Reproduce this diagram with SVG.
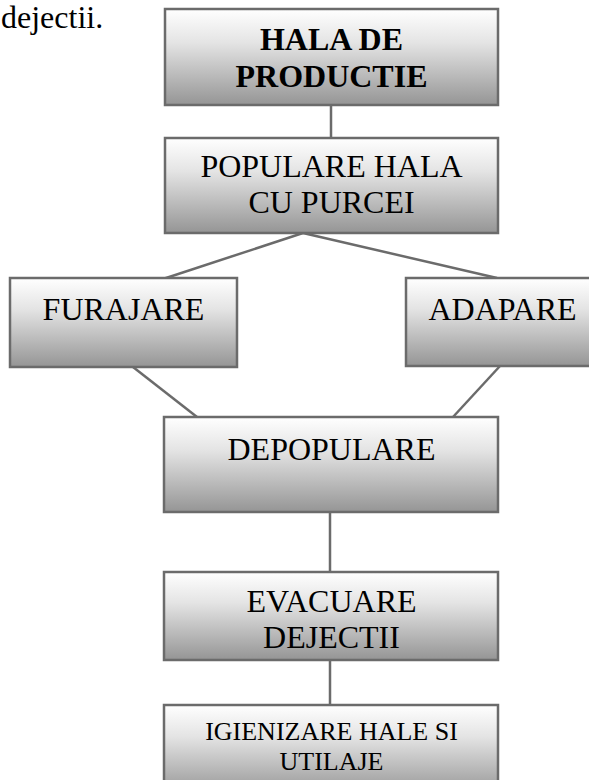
<svg xmlns="http://www.w3.org/2000/svg" width="589" height="780" viewBox="0 0 589 780">
<defs>
<linearGradient id="g" x1="0" y1="0" x2="0" y2="1">
<stop offset="0" stop-color="#ffffff"/>
<stop offset="0.35" stop-color="#e4e4e4"/>
<stop offset="1" stop-color="#959595"/>
</linearGradient>
</defs>
<style>
.box{fill:url(#g);stroke:#6b6b6b;stroke-width:2.5}
.t{font-family:"Liberation Serif","Times New Roman",serif;font-size:32px;fill:#000;text-anchor:middle}
.b{font-weight:bold}
.s{font-size:26px}
.c{stroke:#6b6b6b;stroke-width:2.5;fill:none}
</style>
<rect width="589" height="780" fill="#fff"/>
<text x="1" y="28" style="font-family:'Liberation Serif','Times New Roman',serif;font-size:32px">dejectii.</text>
<g id="connectors">
<line class="c" x1="331" y1="105" x2="331" y2="138"/>
<line class="c" x1="303" y1="233" x2="163" y2="279"/>
<line class="c" x1="303" y1="233" x2="497" y2="278"/>
<line class="c" x1="133" y1="367" x2="197" y2="417"/>
<line class="c" x1="500" y1="366" x2="453" y2="417"/>
<line class="c" x1="330" y1="512" x2="330" y2="572"/>
<line class="c" x1="330" y1="660" x2="330" y2="705"/>
</g>
<g id="hala">
<rect class="box" x="165" y="9" width="333" height="96"/>
<text class="t b" x="331.5" y="50">HALA DE</text>
<text class="t b" x="331.5" y="87">PRODUCTIE</text>
</g>
<g id="populare">
<rect class="box" x="165" y="138" width="333" height="95"/>
<text class="t" x="331.5" y="177">POPULARE HALA</text>
<text class="t" x="331.5" y="213">CU PURCEI</text>
</g>
<g id="furajare">
<rect class="box" x="10" y="278" width="227" height="89"/>
<text class="t" x="123.5" y="320">FURAJARE</text>
</g>
<g id="adapare">
<rect class="box" x="406" y="278" width="194" height="88"/>
<text class="t" x="502.5" y="320">ADAPARE</text>
</g>
<g id="depopulare">
<rect class="box" x="164" y="417" width="334" height="95"/>
<text class="t" x="331.5" y="460">DEPOPULARE</text>
</g>
<g id="evacuare">
<rect class="box" x="164" y="572" width="334" height="88"/>
<text class="t" x="331.5" y="612">EVACUARE</text>
<text class="t" x="331.5" y="648">DEJECTII</text>
</g>
<g id="igienizare">
<rect class="box" x="164" y="705" width="334" height="90"/>
<text class="t s" x="331.5" y="740">IGIENIZARE HALE SI</text>
<text class="t s" x="331.5" y="770">UTILAJE</text>
</g>
</svg>
